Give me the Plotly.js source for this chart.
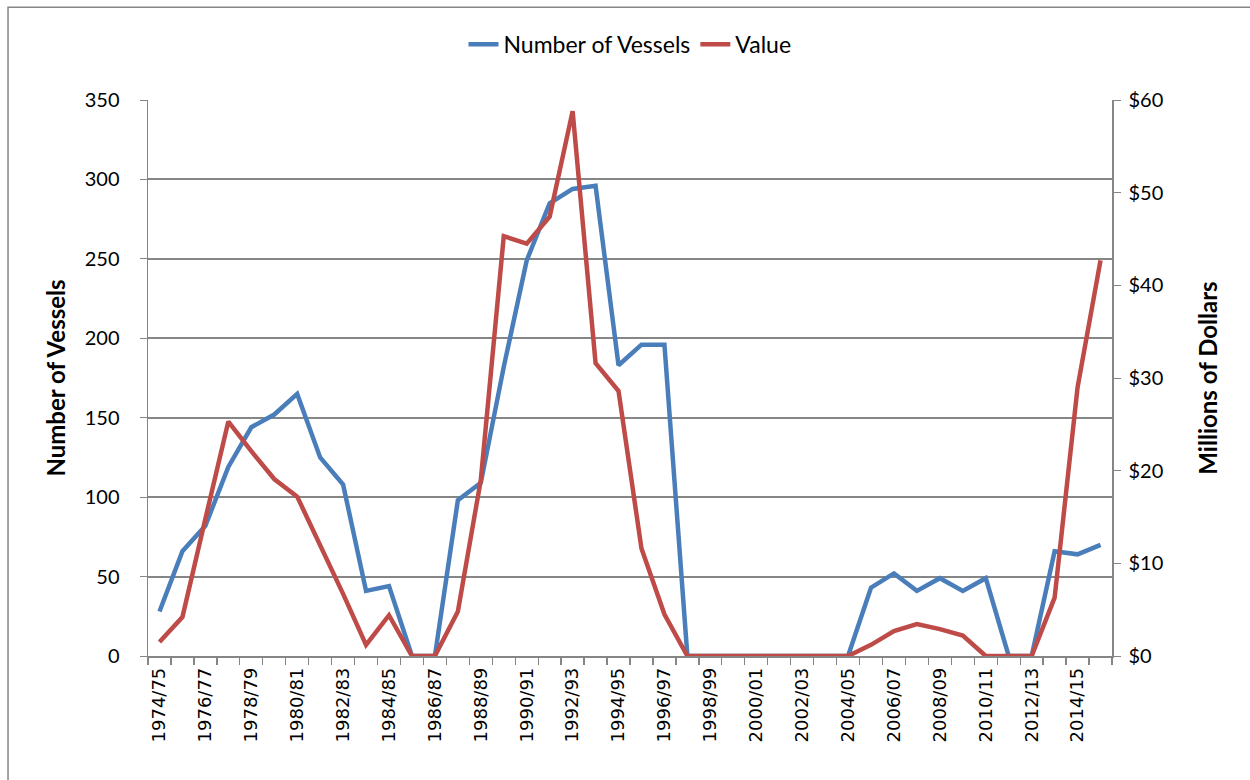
<!DOCTYPE html>
<html>
<head>
<meta charset="utf-8">
<script src="https://cdn.plot.ly/plotly-3.0.1.min.js"></script>
<style>
html,body{margin:0;padding:0;background:#fff;}
#chart{width:1250px;height:780px;}
</style>
</head>
<body>
<div id="chart"></div>
<script>
const seasons = ["1974/75","1975/76","1976/77","1977/78","1978/79","1979/80","1980/81","1981/82","1982/83","1983/84",
  "1984/85","1985/86","1986/87","1987/88","1988/89","1989/90","1990/91","1991/92","1992/93","1993/94",
  "1994/95","1995/96","1996/97","1997/98","1998/99","1999/00","2000/01","2001/02","2002/03","2003/04",
  "2004/05","2005/06","2006/07","2007/08","2008/09","2009/10","2010/11","2011/12","2012/13","2013/14",
  "2014/15","2015/16"];
const vessels = [28,66,82,119,144,152,165,125,108,41,
  44,0,0,98,109,182,249,285,294,296,
  183,196,196,0,0,0,0,0,0,0,
  0,43,52,41,49,41,49,0,0,66,
  64,70];
const valueMillions = [1.5,4.2,14.8,25.3,22.1,19.1,17.2,12.0,6.7,1.2,
  4.4,0,0,4.8,19.0,45.3,44.5,47.4,58.8,31.6,
  28.6,11.6,4.5,0,0,0,0,0,0,0,
  0,1.2,2.7,3.45,2.9,2.2,0,0,0,6.3,
  29.0,42.7];
const tickLabels = seasons.map((s,i)=> i%2===0 ? s : "");

const gray = "#868686";
const font = "Lato, 'Open Sans', sans-serif";

const traces = [
  {x: seasons, y: vessels, name: "Number of Vessels", type: "scatter", mode: "lines",
   line: {color: "#4A7EBB", width: 4.5}, yaxis: "y"},
  {x: seasons, y: valueMillions, name: "Value", type: "scatter", mode: "lines",
   line: {color: "#BE4B48", width: 4.5}, yaxis: "y2"}
];

const layout = {
  width: 1250, height: 780,
  margin: {l: 148, r: 138, t: 100, b: 124},
  paper_bgcolor: "#fff", plot_bgcolor: "#fff",
  font: {family: font, size: 20, color: "#000"},
  showlegend: true,
  legend: {orientation: "h", x: 0.5, xanchor: "center", y: 1.1, yanchor: "middle",
    font: {family: font, size: 23, color: "#000"}, traceorder: "normal"},
  xaxis: {type: "category", range: [-0.5, seasons.length - 0.5],
    tickmode: "array", tickvals: seasons, ticktext: tickLabels, tickson: "boundaries",
    tickangle: -90, ticks: "outside", ticklen: 7, tickcolor: gray, tickwidth: 1.3,
    showline: true, linecolor: gray, linewidth: 1.5, showgrid: false, zeroline: false,
    ticklabelstandoff: 3,
    tickfont: {family: "'DejaVu Sans', sans-serif", size: 18, color: "#000"}},
  yaxis: {range: [0, 350], dtick: 50, tick0: 0, showgrid: true, gridcolor: gray, gridwidth: 2,
    showline: true, linecolor: gray, linewidth: 1.5, ticks: "outside", ticklen: 7, tickcolor: gray,
    zeroline: false, ticklabelstandoff: 16,
    tickfont: {family: font, size: 20, color: "#000"},
    title: {text: "Number of Vessels", standoff: 12, font: {family: font, size: 24, weight: "bold", color: "#000"}}},
  yaxis2: {range: [0, 60], dtick: 10, tick0: 0, overlaying: "y", side: "right", tickprefix: "$",
    showgrid: false, showline: true, linecolor: gray, linewidth: 1.5, ticks: "outside", ticklen: 7,
    tickcolor: gray, zeroline: false, ticklabelstandoff: 4,
    tickfont: {family: font, size: 20, color: "#000"},
    title: {text: "Millions of Dollars", standoff: 38, font: {family: font, size: 24, weight: "bold", color: "#000"}}},
  shapes: [
    {type: "rect", xref: "paper", yref: "paper", x0: -0.1452, x1: 1.3, y0: -0.4, y1: 1.167,
     line: {color: gray, width: 1.5}, fillcolor: "rgba(0,0,0,0)", layer: "below"}
  ]
};

Plotly.newPlot("chart", traces, layout, {displayModeBar: false, staticPlot: true});
</script>
</body>
</html>
